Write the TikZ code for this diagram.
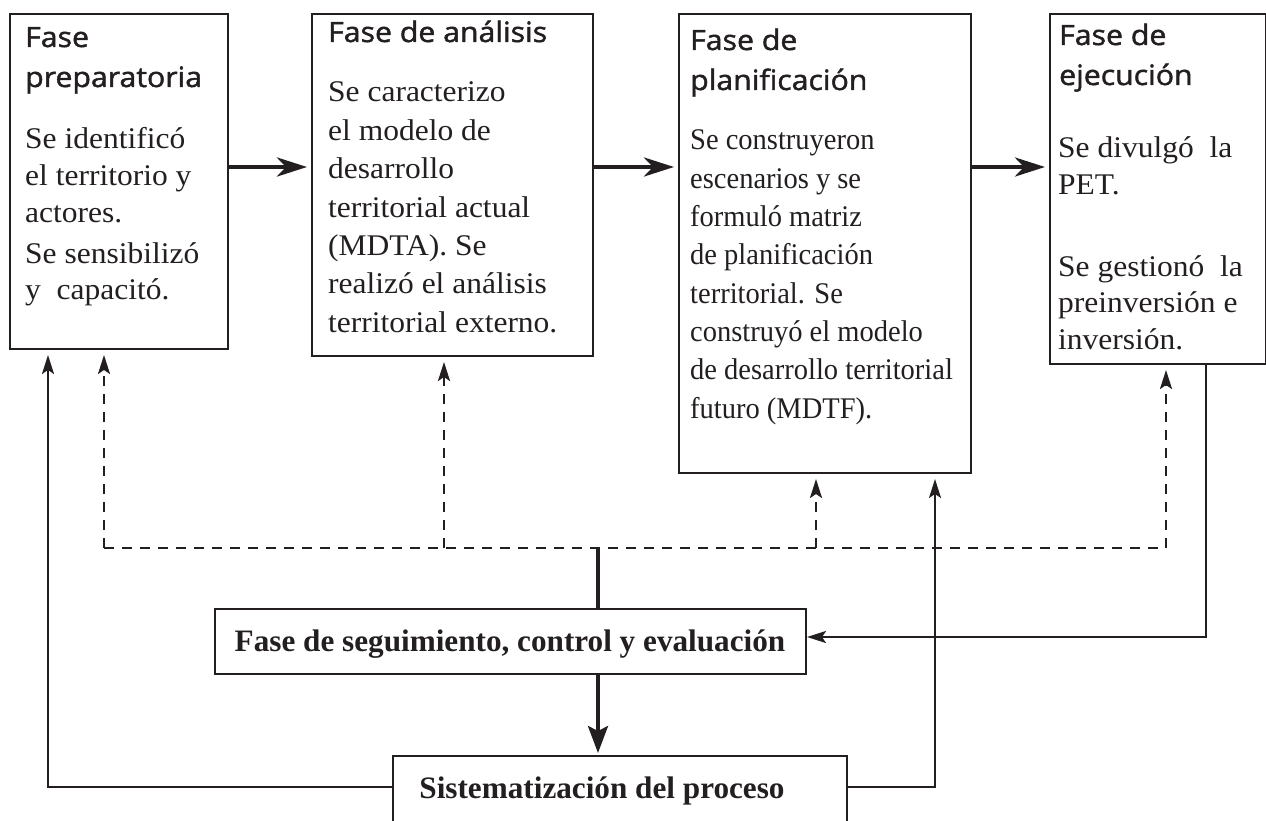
\documentclass[tikz,border=0pt]{standalone}
\usepackage{fontspec}
\setmainfont{Liberation Serif}
\newfontfamily\bodyf[FakeStretch=1.05]{Liberation Serif}
\newfontfamily\bodyc[FakeStretch=0.95]{Liberation Serif}
\newfontfamily\headf[FakeStretch=1.08,FakeBold=1.6]{Open Sans}
\usetikzlibrary{arrows.meta}
\definecolor{ink}{RGB}{35,31,32}
\tikzset{
  phase/.style={draw=ink, line width=2pt, anchor=north west, inner sep=0pt},
  txt/.style={anchor=base west, inner sep=0pt, text=ink},
  bigarrow/.style={line width=4.5pt, draw=ink, -{Stealth[length=30pt,width=19pt,inset=9pt]}, shorten >=4pt},
  thick2/.style={line width=3.5pt, draw=ink},
  downarrow/.style={line width=3.5pt, draw=ink, -{Stealth[length=27pt,width=20pt,inset=5pt]}, shorten >=2pt},
  solidarrow/.style={line width=2pt, draw=ink, -{Stealth[length=19pt,width=12pt,inset=4pt]}, shorten >=5pt},
  dashline/.style={line width=2.4pt, draw=ink, dash pattern=on 10pt off 8pt},
  dasharrow/.style={dashline, -{Stealth[length=19pt,width=12pt,inset=4pt]}, shorten >=5pt},
  boldbox/.style={draw=ink, line width=2pt, inner sep=0pt, text=ink},
}
\newcommand{\hd}{\headf\fontsize{28}{40}\selectfont}
\newcommand{\bd}{\bodyf\fontsize{30}{36.6}\selectfont}
\newcommand{\bb}{\fontsize{31.2}{36}\selectfont\bfseries}
\begin{document}
\begin{tikzpicture}[x=1pt,y=-1pt]
\useasboundingbox (0,0) rectangle (1266,821);
% phase boxes
\node[phase, minimum width=218pt, minimum height=335pt] (b1) at (9,13) {};
\node[phase, minimum width=281pt, minimum height=342pt] (b2) at (311,13) {};
\node[phase, minimum width=292pt, minimum height=459pt] (b3) at (678,13) {};
\node[phase, minimum width=216pt, minimum height=350pt] (b4) at (1049,13) {};
% headers
\node[txt] (h1) at (25,47) {\parbox[t]{200pt}{\hd Fase\\preparatoria}};
\node[txt] (h2) at (328,42) {\parbox[t]{260pt}{\hd Fase de análisis}};
\node[txt] (h3) at (690,50) {\parbox[t]{260pt}{\hd Fase de\\planificación}};
\node[txt] (h4) at (1059,45) {\parbox[t]{200pt}{\hd Fase de\\ejecución}};
% bodies
\node[txt] (t1) at (25,149) {\parbox[t]{210pt}{\bd Se identificó\\el territorio y\\actores.\\[4.5pt]Se sensibilizó\\y~~capacitó.}};
\node[txt] (t2) at (328,102) {\parbox[t]{270pt}{\bodyf\fontsize{30}{38.4}\selectfont Se caracterizo\\el modelo de\\desarrollo\\territorial actual\\(MDTA). Se\\realizó el análisis\\territorial externo.}};
\node[txt] (t3) at (690,150) {\parbox[t]{280pt}{\bodyc\fontsize{30}{38.3}\selectfont Se construyeron\\escenarios y se\\formuló matriz\\de planificación\\territorial. Se\\construyó el modelo\\de desarrollo territorial\\futuro (MDTF).}};
\node[txt] (t4) at (1058,158) {\parbox[t]{210pt}{\bd Se divulgó~~la\\PET.\\[45pt]Se gestionó~~la\\preinversión e\\inversión.}};
% bottom boxes
\node[boldbox, minimum width=591pt, minimum height=65pt, anchor=north west] (seg) at (214,608) {};
\node[txt, anchor=base] (segt) at (510,651) {\bb Fase de seguimiento, control y evaluación};
\node[boldbox, minimum width=454pt, minimum height=100pt, anchor=north west] (sis) at (392,755) {};
\node[txt, anchor=base] (sist) at (602,798) {\bb Sistematización del proceso};
% coordinates
\coordinate (ay) at (0,167);
\coordinate (j1) at (104,548);
\coordinate (j2) at (444,548);
\coordinate (j3) at (816,548);
\coordinate (j4) at (1166,548);
\coordinate (jm) at (598,548);
\coordinate (c1) at (48,787);
\coordinate (c3) at (935,787);
\coordinate (c4) at (1206,637);
% horizontal arrows
\draw[bigarrow] (b1.east |- ay) -- (b2.west |- ay);
\draw[bigarrow] (b2.east |- ay) -- (b3.west |- ay);
\draw[bigarrow] (b3.east |- ay) -- (b4.west |- ay);
% dashed feedback
\draw[dashline] (j1) -- (j4);
\draw[dasharrow] (j1) -- (j1 |- b1.south);
\draw[dasharrow] (j2) -- (j2 |- b2.south);
\draw[dasharrow] (j3) -- (j3 |- b3.south);
\draw[dasharrow] (j4) -- (j4 |- b4.south);
% central spine
\draw[thick2] (seg.north -| jm) -- (jm);
\draw[downarrow] (seg.south -| jm) -- (sis.north -| jm);
% solid loops
\draw[solidarrow] (sis.west |- c1) -- (c1) -- (c1 |- b1.south);
\draw[solidarrow] (sis.east |- c3) -- (c3) -- (c3 |- b3.south);
\draw[solidarrow, shorten >=0pt] (c4 |- b4.south) -- (c4) -- (seg.east |- c4);
\end{tikzpicture}
\end{document}
